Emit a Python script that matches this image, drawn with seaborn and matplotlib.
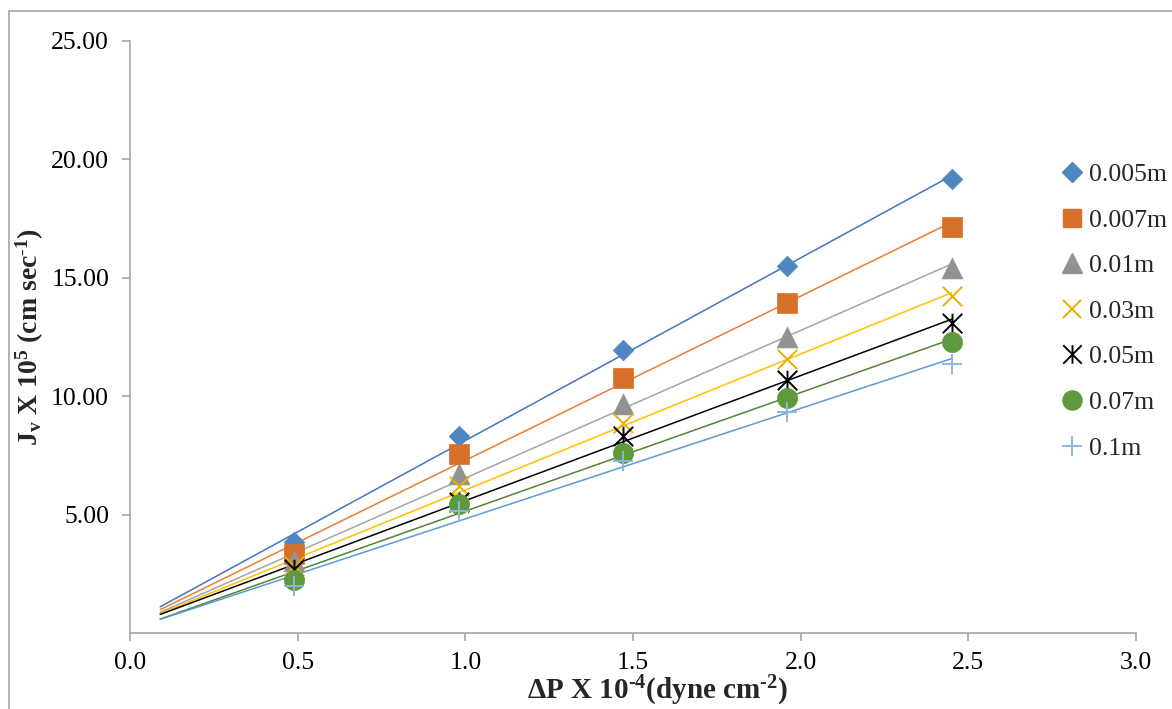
import numpy as np
import pandas as pd
import matplotlib
matplotlib.use("Agg")
import matplotlib.pyplot as plt
from matplotlib.path import Path
from matplotlib.lines import Line2D
import seaborn as sns

# Pressure difference (x 10^-4 dyne cm^-2)
pressure = [0.49, 0.98, 1.47, 1.96, 2.45]

# Volume flux Jv (x 10^5 cm/sec) for each membrane thickness
series_labels = ["0.005m", "0.007m", "0.01m", "0.03m", "0.05m", "0.07m", "0.1m"]
flux_0005 = [3.85, 8.32, 11.93, 15.50, 19.16]
flux_0007 = [3.35, 7.56, 10.76, 13.95, 17.14]
flux_001 = [3.05, 6.72, 9.66, 12.52, 15.42]
flux_003 = [2.85, 6.20, 8.87, 11.55, 14.24]
flux_005 = [2.72, 5.55, 8.32, 10.67, 13.10]
flux_007 = [2.23, 5.46, 7.62, 9.92, 12.27]
flux_01 = [2.00, 5.15, 7.25, 9.33, 11.34]
flux_series = [flux_0005, flux_0007, flux_001, flux_003, flux_005, flux_007, flux_01]

x_ticks = [0.0, 0.5, 1.0, 1.5, 2.0, 2.5, 3.0]
y_ticks = [5, 10, 15, 20, 25]

# Trend lines are extended back towards the origin
trend_start = 0.09

sns.set_theme(style="white")
plt.rcParams["font.family"] = ["Liberation Serif", "DejaVu Serif"]
plt.rcParams["mathtext.fontset"] = "custom"
plt.rcParams["mathtext.rm"] = "Liberation Serif"
plt.rcParams["mathtext.bf"] = "Liberation Serif:bold"
plt.rcParams["mathtext.it"] = "Liberation Serif:italic"
plt.rcParams["mathtext.default"] = "bf"

# Star marker: an x crossed by a vertical stroke
star_path = Path(
    [(-0.5, -0.5), (0.5, 0.5), (-0.5, 0.5), (0.5, -0.5), (0.0, -0.5), (0.0, 0.5)],
    [Path.MOVETO, Path.LINETO, Path.MOVETO, Path.LINETO, Path.MOVETO, Path.LINETO],
)

styles = [
    # marker, marker size (pt), marker colour, line colour, filled
    ("D", 10.5, "#4F86C0", "#4472C4", True),
    ("s", 14.0, "#D6702A", "#ED7D31", True),
    ("^", 15.0, "#929292", "#A5A5A5", True),
    ("x", 14.0, "#E8AE00", "#FFC000", False),
    (star_path, 14.0, "#000000", "#000000", False),
    ("o", 14.5, "#5E9A3C", "#548235", True),
    ("+", 15.0, "#8DB4E2", "#5B9BD5", False),
]

records = []
for label, values in zip(series_labels, flux_series):
    for p, v in zip(pressure, values):
        records.append({"pressure": p, "flux": v, "thickness": label})
df = pd.DataFrame(records)

fig = plt.figure(figsize=(11.72, 7.09), dpi=100)
ax = fig.add_axes([130 / 1172, 1 - 633 / 709, (1136 - 130) / 1172, (633 - 41) / 709])

handles = []
for label, (marker, ms, mcol, lcol, filled) in zip(series_labels, styles):
    sub = df[df["thickness"] == label]
    # least-squares linear trend line
    slope, intercept = np.polyfit(sub["pressure"], sub["flux"], 1)
    xs = np.array([trend_start, max(pressure)])
    trend = pd.DataFrame({"pressure": xs, "flux": slope * xs + intercept})
    sns.lineplot(data=trend, x="pressure", y="flux", color=lcol, linewidth=1.1,
                 ax=ax, zorder=2)
    if filled:
        sns.scatterplot(data=sub, x="pressure", y="flux", marker=marker, s=ms ** 2,
                        color=mcol, edgecolor=mcol, linewidth=0.5, ax=ax, zorder=3)
        handles.append(Line2D([], [], linestyle="none", marker=marker, markersize=ms * 0.95,
                              markerfacecolor=mcol, markeredgecolor=mcol))
    else:
        sns.scatterplot(data=sub, x="pressure", y="flux", marker=marker, s=ms ** 2,
                        color=mcol, edgecolor=mcol, linewidth=1.4, ax=ax, zorder=3)
        handles.append(Line2D([], [], linestyle="none", marker=marker, markersize=ms * 0.95,
                              color=mcol, markeredgecolor=mcol, markerfacecolor="none",
                              markeredgewidth=1.4))

ax.set_xlim(0, 3.0)
ax.set_ylim(0, 25)
ax.set_xticks(x_ticks)
ax.set_xticklabels([f"{t:.1f}" for t in x_ticks])
ax.set_yticks(y_ticks)
ax.set_yticklabels([f"{t:.2f}" for t in y_ticks])

axis_grey = "#A6A6A6"
for side in ["top", "right"]:
    ax.spines[side].set_visible(False)
for side in ["left", "bottom"]:
    ax.spines[side].set_color(axis_grey)
    ax.spines[side].set_linewidth(1.2)
ax.tick_params(axis="both", which="major", direction="out", length=6, width=1.2,
               color=axis_grey, labelsize=18.5, labelcolor="black")
ax.tick_params(axis="x", pad=8, bottom=True)
ax.tick_params(axis="y", pad=9, left=True)

ax.set_xlabel(r"ΔP X 10$^{\text{-}4}$(dyne cm$^{\text{-}2}$)", fontsize=21,
              fontweight="bold")
ax.set_ylabel(r"J$_{v}$ X 10$^{5}$ (cm sec$^{\text{-}1}$)", fontsize=20,
              fontweight="bold", labelpad=4)
ax.xaxis.set_label_coords(0.524, -0.069)

ax.legend(handles, series_labels, loc="upper left",
          bbox_to_anchor=(1062 / 1172, 1 - 163 / 709), bbox_transform=fig.transFigure,
          frameon=False, fontsize=18.5, handlelength=0.8, handletextpad=0.25,
          labelspacing=0.88, borderpad=0, borderaxespad=0)

# chart area border
fig.add_artist(Line2D([9 / 1172, 9 / 1172], [0, 1 - 11 / 709], color=axis_grey,
                      linewidth=1.2, transform=fig.transFigure))
fig.add_artist(Line2D([9 / 1172, 1], [1 - 11 / 709, 1 - 11 / 709], color=axis_grey,
                      linewidth=1.2, transform=fig.transFigure))

fig.savefig("out.png", dpi=100)
